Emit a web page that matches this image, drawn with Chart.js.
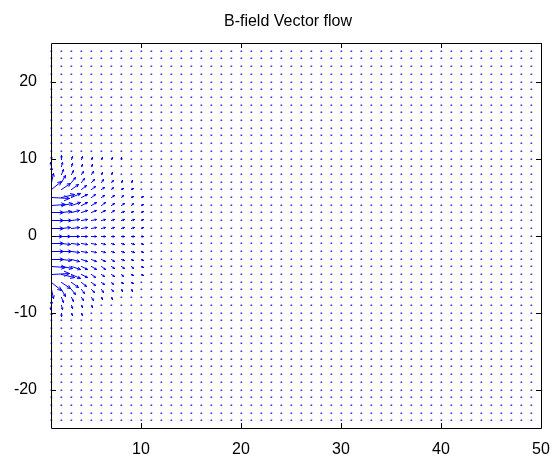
<!DOCTYPE html>
<html>
<head>
<meta charset="utf-8">
<script src="https://cdn.jsdelivr.net/npm/chart.js@4.4.0/dist/chart.umd.min.js"></script>
<style>
  html, body { margin: 0; padding: 0; background: #ffffff; }
  #chart { display: block; }
</style>
</head>
<body>
<canvas id="chart" width="555" height="458"></canvas>
<script>
    'use strict';

    // grid of quiver origins
    const xGrid = [1, 2, 3, 4, 5, 6, 7, 8, 9, 10, 11, 12, 13, 14, 15, 16, 17, 18, 19, 20,
        21, 22, 23, 24, 25, 26, 27, 28, 29, 30, 31, 32, 33, 34, 35, 36, 37, 38, 39, 40,
        41, 42, 43, 44, 45, 46, 47, 48, 49];
    const yGrid = [-24, -23, -22, -21, -20, -19, -18, -17, -16, -15, -14, -13, -12, -11, -10,
        -9, -8, -7, -6, -5, -4, -3, -2, -1, 0, 1, 2, 3, 4, 5, 6, 7, 8, 9, 10,
        11, 12, 13, 14, 15, 16, 17, 18, 19, 20, 21, 22, 23, 24];

    const xTicks = [10, 20, 30, 40, 50];
    const yTicks = [-20, -10, 0, 10, 20];

    const TITLE = 'B-field Vector flow';

    // visible vectors near the coil; elsewhere only dots
    const nearX = [1, 2, 3, 4, 5, 6, 7, 8, 9, 10];
    const nearY = [10, 9, 8, 7, 6, 5, 4, 3, 2, 1, 0, -1, -2, -3, -4, -5, -6, -7, -8, -9, -10];

    const nearU = [
        [-0.05, 0, 0.05, 0.05, 0.05, 0.05, 0.05, 0.03, 0.03, 0.03],
        [-0.1, 0.05, 0.1, 0.1, 0.1, 0.05, 0.05, 0.05, 0.05, 0.05],
        [0, 0.15, 0.2, 0.2, 0.15, 0.1, 0.1, 0.05, 0.05, 0.05],
        [0.2, 0.4, 0.4, 0.3, 0.25, 0.2, 0.15, 0.1, 0.1, 0.1],
        [1.0, 0.9, 0.7, 0.5, 0.35, 0.25, 0.2, 0.15, 0.15, 0.1],
        [1.8, 1.3, 0.9, 0.6, 0.4, 0.3, 0.25, 0.2, 0.2, 0.15],
        [1.4, 1.1, 0.9, 0.6, 0.5, 0.35, 0.3, 0.25, 0.2, 0.2],
        [1.2, 1.0, 0.8, 0.6, 0.5, 0.4, 0.3, 0.25, 0.2, 0.2],
        [1.2, 1.0, 0.8, 0.6, 0.5, 0.4, 0.3, 0.25, 0.25, 0.2],
        [1.2, 0.9, 0.8, 0.6, 0.5, 0.4, 0.3, 0.3, 0.25, 0.2],
        [1.1, 0.9, 0.8, 0.6, 0.5, 0.4, 0.3, 0.3, 0.25, 0.2],
        [1.2, 0.9, 0.8, 0.6, 0.5, 0.4, 0.3, 0.3, 0.25, 0.2],
        [1.2, 1.0, 0.8, 0.6, 0.5, 0.4, 0.3, 0.25, 0.25, 0.2],
        [1.2, 1.0, 0.8, 0.6, 0.5, 0.4, 0.3, 0.25, 0.2, 0.2],
        [1.4, 1.1, 0.9, 0.6, 0.5, 0.35, 0.3, 0.25, 0.2, 0.2],
        [1.8, 1.3, 0.9, 0.6, 0.4, 0.3, 0.25, 0.2, 0.2, 0.15],
        [1.0, 0.9, 0.7, 0.5, 0.35, 0.25, 0.2, 0.15, 0.15, 0.1],
        [0.2, 0.4, 0.4, 0.3, 0.25, 0.2, 0.15, 0.1, 0.1, 0.1],
        [0, 0.15, 0.2, 0.2, 0.15, 0.1, 0.1, 0.05, 0.05, 0.05],
        [-0.1, 0.05, 0.1, 0.1, 0.1, 0.05, 0.05, 0.05, 0.05, 0.05],
        [-0.05, 0, 0.05, 0.05, 0.05, 0.05, 0.05, 0.03, 0.03, 0.03]
    ];

    const nearV = [
        [0.26, 0.39, 0.32, 0.26, 0.19, 0.13, 0.13, 0.13, 0.1, 0.1],
        [0.52, 0.52, 0.39, 0.32, 0.26, 0.19, 0.13, 0.13, 0.1, 0.1],
        [0.9, 0.65, 0.52, 0.39, 0.32, 0.26, 0.19, 0.13, 0.13, 0.1],
        [1.17, 0.9, 0.65, 0.52, 0.39, 0.32, 0.26, 0.19, 0.15, 0.13],
        [1.04, 0.78, 0.65, 0.52, 0.39, 0.32, 0.26, 0.19, 0.15, 0.13],
        [-0.13, 0.39, 0.52, 0.45, 0.39, 0.32, 0.26, 0.26, 0.19, 0.15],
        [0.13, 0.26, 0.39, 0.39, 0.32, 0.32, 0.26, 0.26, 0.19, 0.15],
        [0.06, 0.13, 0.26, 0.26, 0.26, 0.26, 0.26, 0.19, 0.15, 0.13],
        [0, 0.06, 0.13, 0.19, 0.19, 0.19, 0.19, 0.19, 0.13, 0.1],
        [0, 0.04, 0.06, 0.1, 0.13, 0.13, 0.13, 0.13, 0.1, 0.06],
        [0, 0, 0, 0, 0, 0, 0, 0, 0, 0],
        [0, -0.04, -0.06, -0.1, -0.13, -0.13, -0.13, -0.13, -0.1, -0.06],
        [0, -0.06, -0.13, -0.19, -0.19, -0.19, -0.19, -0.19, -0.13, -0.1],
        [-0.06, -0.13, -0.26, -0.26, -0.26, -0.26, -0.26, -0.19, -0.15, -0.13],
        [-0.13, -0.26, -0.39, -0.39, -0.32, -0.32, -0.26, -0.26, -0.19, -0.15],
        [0.13, -0.39, -0.52, -0.45, -0.39, -0.32, -0.26, -0.26, -0.19, -0.15],
        [-1.04, -0.78, -0.65, -0.52, -0.39, -0.32, -0.26, -0.19, -0.15, -0.13],
        [-1.17, -0.9, -0.65, -0.52, -0.39, -0.32, -0.26, -0.19, -0.15, -0.13],
        [-0.9, -0.65, -0.52, -0.39, -0.32, -0.26, -0.19, -0.13, -0.13, -0.1],
        [-0.52, -0.52, -0.39, -0.32, -0.26, -0.19, -0.13, -0.13, -0.1, -0.1],
        [-0.26, -0.39, -0.32, -0.26, -0.19, -0.13, -0.13, -0.13, -0.1, -0.1]
    ];

    const ARROW_COLOR = '#0000ff';
    const FONT = 'Liberation Sans, Arial, sans-serif';

    // build quiver points from the arrays
    const points = [];
    xGrid.forEach(x => {
        yGrid.forEach(y => {
            const ci = nearX.indexOf(x);
            const ri = nearY.indexOf(y);
            if (ci >= 0 && ri >= 0) {
                points.push({ x: x, y: y, u: nearU[ri][ci], v: nearV[ri][ci] });
            } else {
                points.push({ x: x, y: y, u: 0, v: 0 });
            }
        });
    });

    const quiverPlugin = {
        id: 'quiver',
        afterDatasetsDraw(chart) {
            const ctx = chart.ctx;
            const xs = chart.scales.x;
            const ys = chart.scales.y;
            ctx.save();
            ctx.strokeStyle = ARROW_COLOR;
            ctx.fillStyle = ARROW_COLOR;
            ctx.lineWidth = 1;
            ctx.lineCap = 'square';
            chart.data.datasets[0].data.forEach(p => {
                const x0 = Math.round(xs.getPixelForValue(p.x)) + 0.5;
                const y0 = Math.round(ys.getPixelForValue(p.y)) + 0.5;
                const x1 = Math.round(xs.getPixelForValue(p.x + p.u)) + 0.5;
                const y1 = Math.round(ys.getPixelForValue(p.y + p.v)) + 0.5;
                const dx = x1 - x0, dy = y1 - y0;
                const len = Math.sqrt(dx * dx + dy * dy);
                if (len < 1.5) {
                    ctx.globalAlpha = 0.8;
                    ctx.fillRect(x0 - 1, y0 - 1, 1.7, 1.5);
                    ctx.globalAlpha = 1;
                    return;
                }
                ctx.beginPath();
                ctx.moveTo(x0, y0);
                ctx.lineTo(x1, y1);
                const ang = Math.atan2(dy, dx);
                const h = Math.max(1.5, len * 0.3);
                ctx.moveTo(x1 - h * Math.cos(ang - 0.45), y1 - h * Math.sin(ang - 0.45));
                ctx.lineTo(x1, y1);
                ctx.lineTo(x1 - h * Math.cos(ang + 0.45), y1 - h * Math.sin(ang + 0.45));
                ctx.stroke();
            });
            ctx.restore();
        },
        afterDraw(chart) {
            // MATLAB style box with inward ticks on all sides, plus the title
            const ctx = chart.ctx;
            const a = chart.chartArea;
            const xs = chart.scales.x;
            const ys = chart.scales.y;
            const tl = 5;
            ctx.save();
            ctx.strokeStyle = '#000000';
            ctx.lineWidth = 1;
            ctx.beginPath();
            ctx.rect(Math.round(a.left) + 0.5, Math.round(a.top) + 0.5,
                Math.round(a.right - a.left), Math.round(a.bottom - a.top));
            xTicks.forEach(t => {
                const px = Math.round(xs.getPixelForValue(t)) + 0.5;
                ctx.moveTo(px, a.bottom);
                ctx.lineTo(px, a.bottom - tl);
                ctx.moveTo(px, a.top);
                ctx.lineTo(px, a.top + tl);
            });
            yTicks.forEach(t => {
                const py = Math.round(ys.getPixelForValue(t)) + 0.5;
                ctx.moveTo(a.left, py);
                ctx.lineTo(a.left + tl, py);
                ctx.moveTo(a.right, py);
                ctx.lineTo(a.right - tl, py);
            });
            ctx.stroke();

            ctx.fillStyle = '#000000';
            ctx.font = '16px ' + FONT;
            ctx.textAlign = 'center';
            ctx.textBaseline = 'middle';
            ctx.fillText(TITLE, 288, 22);
            ctx.restore();
        }
    };

    const canvas = document.getElementById('chart');
    new Chart(canvas.getContext('2d'), {
        type: 'scatter',
        data: {
            datasets: [{
                label: 'B',
                data: points,
                pointRadius: 0,
                pointHoverRadius: 0,
                showLine: false
            }]
        },
        options: {
            responsive: false,
            animation: false,
            events: [],
            layout: {
                padding: { left: 0, right: 14, top: 43, bottom: 0 }
            },
            plugins: {
                legend: { display: false },
                tooltip: { enabled: false },
                title: { display: false }
            },
            scales: {
                x: {
                    type: 'linear',
                    min: 1,
                    max: 50,
                    afterBuildTicks: s => { s.ticks = xTicks.map(v => ({ value: v })); },
                    afterFit: s => { s.height = 30; },
                    grid: { display: false },
                    border: { display: false },
                    ticks: {
                        color: '#000000',
                        padding: 4,
                        maxRotation: 0,
                        font: { family: FONT, size: 16 }
                    }
                },
                y: {
                    type: 'linear',
                    min: -25,
                    max: 25,
                    afterBuildTicks: s => { s.ticks = yTicks.map(v => ({ value: v })); },
                    afterFit: s => { s.width = 51; },
                    grid: { display: false },
                    border: { display: false },
                    ticks: {
                        color: '#000000',
                        padding: 6,
                        font: { family: FONT, size: 16 }
                    }
                }
            }
        },
        plugins: [quiverPlugin]
    });
</script>
</body>
</html>
